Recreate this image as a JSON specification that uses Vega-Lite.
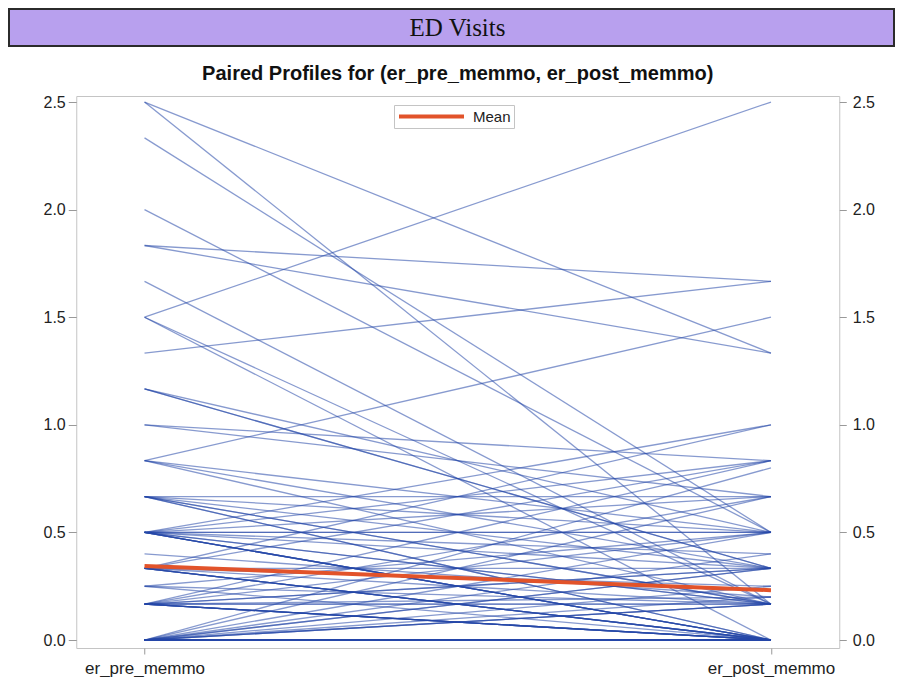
{
  "$schema": "https://vega.github.io/schema/vega-lite/v6.json",
  "padding": {"left": 8, "top": 8, "right": 0, "bottom": 0},
  "background": "white",
  "spacing": 16,
  "center": true,
  "config": {
    "font": "Liberation Sans",
    "view": {"stroke": "#c4c4c4", "strokeWidth": 1}
  },
  "datasets": {
    "paired": [
      {"id": 1, "er_pre_memmo": 2.5, "er_post_memmo": 1.3333},
      {"id": 2, "er_pre_memmo": 2.5, "er_post_memmo": 0.1667},
      {"id": 3, "er_pre_memmo": 2.3333, "er_post_memmo": 0.5},
      {"id": 4, "er_pre_memmo": 2.0, "er_post_memmo": 0.5},
      {"id": 5, "er_pre_memmo": 1.8333, "er_post_memmo": 1.6667},
      {"id": 6, "er_pre_memmo": 1.8333, "er_post_memmo": 1.3333},
      {"id": 7, "er_pre_memmo": 1.6667, "er_post_memmo": 0.1667},
      {"id": 8, "er_pre_memmo": 1.5, "er_post_memmo": 2.5},
      {"id": 9, "er_pre_memmo": 1.5, "er_post_memmo": 0},
      {"id": 10, "er_pre_memmo": 1.5, "er_post_memmo": 0.1667},
      {"id": 11, "er_pre_memmo": 1.3333, "er_post_memmo": 1.6667},
      {"id": 12, "er_pre_memmo": 1.1667, "er_post_memmo": 0.3333},
      {"id": 13, "er_pre_memmo": 1.1667, "er_post_memmo": 0.3333},
      {"id": 14, "er_pre_memmo": 1.1667, "er_post_memmo": 0.5},
      {"id": 15, "er_pre_memmo": 1.0, "er_post_memmo": 0.8333},
      {"id": 16, "er_pre_memmo": 1.0, "er_post_memmo": 0.6667},
      {"id": 17, "er_pre_memmo": 0.8333, "er_post_memmo": 1.5},
      {"id": 18, "er_pre_memmo": 0.8333, "er_post_memmo": 0.5},
      {"id": 19, "er_pre_memmo": 0.8333, "er_post_memmo": 0.3333},
      {"id": 20, "er_pre_memmo": 0.8333, "er_post_memmo": 0.1667},
      {"id": 21, "er_pre_memmo": 0.6667, "er_post_memmo": 0.6667},
      {"id": 22, "er_pre_memmo": 0.6667, "er_post_memmo": 0.3333},
      {"id": 23, "er_pre_memmo": 0.6667, "er_post_memmo": 0.1667},
      {"id": 24, "er_pre_memmo": 0.6667, "er_post_memmo": 0.1667},
      {"id": 25, "er_pre_memmo": 0.6667, "er_post_memmo": 0},
      {"id": 26, "er_pre_memmo": 0.6667, "er_post_memmo": 0.5},
      {"id": 27, "er_pre_memmo": 0.5, "er_post_memmo": 1.0},
      {"id": 28, "er_pre_memmo": 0.5, "er_post_memmo": 0.8333},
      {"id": 29, "er_pre_memmo": 0.5, "er_post_memmo": 0.6667},
      {"id": 30, "er_pre_memmo": 0.5, "er_post_memmo": 0.5},
      {"id": 31, "er_pre_memmo": 0.5, "er_post_memmo": 0.5},
      {"id": 32, "er_pre_memmo": 0.5, "er_post_memmo": 0.3333},
      {"id": 33, "er_pre_memmo": 0.5, "er_post_memmo": 0.1667},
      {"id": 34, "er_pre_memmo": 0.5, "er_post_memmo": 0.1667},
      {"id": 35, "er_pre_memmo": 0.5, "er_post_memmo": 0},
      {"id": 36, "er_pre_memmo": 0.5, "er_post_memmo": 0},
      {"id": 37, "er_pre_memmo": 0.5, "er_post_memmo": 0.4},
      {"id": 38, "er_pre_memmo": 0.4, "er_post_memmo": 0.2},
      {"id": 39, "er_pre_memmo": 0.3333, "er_post_memmo": 1.0},
      {"id": 40, "er_pre_memmo": 0.3333, "er_post_memmo": 0.8333},
      {"id": 41, "er_pre_memmo": 0.3333, "er_post_memmo": 0.3333},
      {"id": 42, "er_pre_memmo": 0.3333, "er_post_memmo": 0.1667},
      {"id": 43, "er_pre_memmo": 0.3333, "er_post_memmo": 0},
      {"id": 44, "er_pre_memmo": 0.3333, "er_post_memmo": 0},
      {"id": 45, "er_pre_memmo": 0.3333, "er_post_memmo": 0.25},
      {"id": 46, "er_pre_memmo": 0.25, "er_post_memmo": 0.5},
      {"id": 47, "er_pre_memmo": 0.25, "er_post_memmo": 0.1667},
      {"id": 48, "er_pre_memmo": 0.1667, "er_post_memmo": 0.8333},
      {"id": 49, "er_pre_memmo": 0.1667, "er_post_memmo": 0.6667},
      {"id": 50, "er_pre_memmo": 0.1667, "er_post_memmo": 0.5},
      {"id": 51, "er_pre_memmo": 0.1667, "er_post_memmo": 0.3333},
      {"id": 52, "er_pre_memmo": 0.1667, "er_post_memmo": 0.3333},
      {"id": 53, "er_pre_memmo": 0.1667, "er_post_memmo": 0.1667},
      {"id": 54, "er_pre_memmo": 0.1667, "er_post_memmo": 0.1667},
      {"id": 55, "er_pre_memmo": 0.1667, "er_post_memmo": 0},
      {"id": 56, "er_pre_memmo": 0.1667, "er_post_memmo": 0},
      {"id": 57, "er_pre_memmo": 0.1667, "er_post_memmo": 0},
      {"id": 58, "er_pre_memmo": 0.1667, "er_post_memmo": 0.2},
      {"id": 59, "er_pre_memmo": 0, "er_post_memmo": 0.8},
      {"id": 60, "er_pre_memmo": 0, "er_post_memmo": 0.6667},
      {"id": 61, "er_pre_memmo": 0, "er_post_memmo": 0.5},
      {"id": 62, "er_pre_memmo": 0, "er_post_memmo": 0.4},
      {"id": 63, "er_pre_memmo": 0, "er_post_memmo": 0.3333},
      {"id": 64, "er_pre_memmo": 0, "er_post_memmo": 0.3333},
      {"id": 65, "er_pre_memmo": 0, "er_post_memmo": 0.25},
      {"id": 66, "er_pre_memmo": 0, "er_post_memmo": 0.1667},
      {"id": 67, "er_pre_memmo": 0, "er_post_memmo": 0.1667},
      {"id": 68, "er_pre_memmo": 0, "er_post_memmo": 0.1667},
      {"id": 69, "er_pre_memmo": 0, "er_post_memmo": 0.2},
      {"id": 70, "er_pre_memmo": 0.5, "er_post_memmo": 0},
      {"id": 71, "er_pre_memmo": 0.5, "er_post_memmo": 0},
      {"id": 72, "er_pre_memmo": 0.3333, "er_post_memmo": 0},
      {"id": 73, "er_pre_memmo": 0.3333, "er_post_memmo": 0},
      {"id": 74, "er_pre_memmo": 0.1667, "er_post_memmo": 0},
      {"id": 75, "er_pre_memmo": 0.1667, "er_post_memmo": 0},
      {"id": 76, "er_pre_memmo": 0.1667, "er_post_memmo": 0},
      {"id": 77, "er_pre_memmo": 0.6667, "er_post_memmo": 0},
      {"id": 78, "er_pre_memmo": 0.25, "er_post_memmo": 0},
      {"id": 79, "er_pre_memmo": 0.5, "er_post_memmo": 0},
      {"id": 80, "er_pre_memmo": 0.3333, "er_post_memmo": 0},
      {"id": 81, "er_pre_memmo": 0, "er_post_memmo": 0},
      {"id": 82, "er_pre_memmo": 0, "er_post_memmo": 0},
      {"id": 83, "er_pre_memmo": 0, "er_post_memmo": 0},
      {"id": 84, "er_pre_memmo": 0, "er_post_memmo": 0},
      {"id": 85, "er_pre_memmo": 0, "er_post_memmo": 0},
      {"id": 86, "er_pre_memmo": 0, "er_post_memmo": 0},
      {"id": 87, "er_pre_memmo": 0, "er_post_memmo": 0},
      {"id": 88, "er_pre_memmo": 0, "er_post_memmo": 0},
      {"id": 89, "er_pre_memmo": 0, "er_post_memmo": 0},
      {"id": 90, "er_pre_memmo": 0, "er_post_memmo": 0},
      {"id": 91, "er_pre_memmo": 0, "er_post_memmo": 0},
      {"id": 92, "er_pre_memmo": 0, "er_post_memmo": 0},
      {"id": 93, "er_pre_memmo": 0, "er_post_memmo": 0},
      {"id": 94, "er_pre_memmo": 0, "er_post_memmo": 0},
      {"id": 95, "er_pre_memmo": 0, "er_post_memmo": 0},
      {"id": 96, "er_pre_memmo": 0, "er_post_memmo": 0},
      {"id": 97, "er_pre_memmo": 0, "er_post_memmo": 0},
      {"id": 98, "er_pre_memmo": 0, "er_post_memmo": 0},
      {"id": 99, "er_pre_memmo": 0, "er_post_memmo": 0},
      {"id": 100, "er_pre_memmo": 0, "er_post_memmo": 0},
      {"id": 101, "er_pre_memmo": 0, "er_post_memmo": 0},
      {"id": 102, "er_pre_memmo": 0, "er_post_memmo": 0},
      {"id": 103, "er_pre_memmo": 0, "er_post_memmo": 0},
      {"id": 104, "er_pre_memmo": 0, "er_post_memmo": 0},
      {"id": 105, "er_pre_memmo": 0, "er_post_memmo": 0},
      {"id": 106, "er_pre_memmo": 0, "er_post_memmo": 0},
      {"id": 107, "er_pre_memmo": 0, "er_post_memmo": 0},
      {"id": 108, "er_pre_memmo": 0, "er_post_memmo": 0},
      {"id": 109, "er_pre_memmo": 0, "er_post_memmo": 0},
      {"id": 110, "er_pre_memmo": 0, "er_post_memmo": 0},
      {"id": 111, "er_pre_memmo": 0, "er_post_memmo": 0},
      {"id": 112, "er_pre_memmo": 0, "er_post_memmo": 0},
      {"id": 113, "er_pre_memmo": 0, "er_post_memmo": 0},
      {"id": 114, "er_pre_memmo": 0, "er_post_memmo": 0},
      {"id": 115, "er_pre_memmo": 0, "er_post_memmo": 0},
      {"id": 116, "er_pre_memmo": 0, "er_post_memmo": 0},
      {"id": 117, "er_pre_memmo": 0, "er_post_memmo": 0},
      {"id": 118, "er_pre_memmo": 0, "er_post_memmo": 0},
      {"id": 119, "er_pre_memmo": 0, "er_post_memmo": 0},
      {"id": 120, "er_pre_memmo": 0, "er_post_memmo": 0},
      {"id": 121, "er_pre_memmo": 0, "er_post_memmo": 0},
      {"id": 122, "er_pre_memmo": 0, "er_post_memmo": 0},
      {"id": 123, "er_pre_memmo": 0, "er_post_memmo": 0},
      {"id": 124, "er_pre_memmo": 0, "er_post_memmo": 0},
      {"id": 125, "er_pre_memmo": 0, "er_post_memmo": 0},
      {"id": 126, "er_pre_memmo": 0, "er_post_memmo": 0},
      {"id": 127, "er_pre_memmo": 0, "er_post_memmo": 0},
      {"id": 128, "er_pre_memmo": 0, "er_post_memmo": 0},
      {"id": 129, "er_pre_memmo": 0, "er_post_memmo": 0},
      {"id": 130, "er_pre_memmo": 0, "er_post_memmo": 0},
      {"id": 131, "er_pre_memmo": 0, "er_post_memmo": 0},
      {"id": 132, "er_pre_memmo": 0, "er_post_memmo": 0},
      {"id": 133, "er_pre_memmo": 0, "er_post_memmo": 0},
      {"id": 134, "er_pre_memmo": 0, "er_post_memmo": 0},
      {"id": 135, "er_pre_memmo": 0, "er_post_memmo": 0},
      {"id": 136, "er_pre_memmo": 0, "er_post_memmo": 0},
      {"id": 137, "er_pre_memmo": 0, "er_post_memmo": 0},
      {"id": 138, "er_pre_memmo": 0, "er_post_memmo": 0},
      {"id": 139, "er_pre_memmo": 0, "er_post_memmo": 0}
    ]
  },
  "vconcat": [
    {
      "width": 885,
      "height": 37,
      "data": {"values": [{"label": "ED Visits"}]},
      "view": {"fill": "#b8a0ee", "stroke": "#2b2b2b", "strokeWidth": 2},
      "mark": {"type": "text", "font": "Liberation Serif", "fontSize": 25, "color": "#111", "dx": 6},
      "encoding": {
        "text": {"field": "label"},
        "y": {
          "field": "label",
          "type": "nominal",
          "axis": {
            "orient": "right",
            "title": null,
            "domain": false,
            "ticks": false,
            "labelExpr": "''",
            "minExtent": 67,
            "maxExtent": 67
          }
        }
      }
    },
    {
      "width": 763,
      "height": 552,
      "title": {
        "text": "Paired Profiles for (er_pre_memmo, er_post_memmo)",
        "fontSize": 20,
        "fontWeight": "bold",
        "color": "#111",
        "offset": 10
      },
      "data": {"name": "paired"},
      "transform": [{"fold": ["er_pre_memmo", "er_post_memmo"], "as": ["visit", "rate"]}],
      "encoding": {
        "x": {
          "field": "visit",
          "type": "nominal",
          "sort": ["er_pre_memmo", "er_post_memmo"],
          "scale": {"type": "point", "padding": 0.109},
          "axis": {
            "title": null,
            "labelAngle": 0,
            "labelFontSize": 17,
            "labelColor": "#222",
            "labelPadding": 6,
            "tickSize": 6,
            "tickColor": "#999",
            "domain": false
          }
        }
      },
      "layer": [
        {
          "mark": {"type": "line", "color": "#2447a8", "strokeWidth": 1.3, "strokeOpacity": 0.55},
          "encoding": {
            "detail": {"field": "id", "type": "nominal"},
            "y": {
              "field": "rate",
              "type": "quantitative",
              "scale": {"domain": [-0.037, 2.528], "nice": false, "zero": false},
              "axis": {
                "title": null,
                "values": [0, 0.5, 1, 1.5, 2, 2.5],
                "format": ".1f",
                "grid": false,
                "domain": false,
                "tickSize": 8,
                "tickColor": "#999",
                "labelPadding": 3,
                "labelFontSize": 16,
                "labelColor": "#222",
                "minExtent": 67,
                "maxExtent": 67
              }
            }
          }
        },
        {
          "mark": {"type": "line", "strokeWidth": 4},
          "encoding": {
            "y": {
              "aggregate": "mean",
              "field": "rate",
              "type": "quantitative",
              "axis": {
                "orient": "right",
                "title": null,
                "values": [0, 0.5, 1, 1.5, 2, 2.5],
                "format": ".1f",
                "grid": false,
                "domain": false,
                "tickSize": 7,
                "tickColor": "#999",
                "labelPadding": 6,
                "labelFontSize": 16,
                "labelColor": "#222",
                "minExtent": 55,
                "maxExtent": 55
              }
            },
            "color": {
              "datum": "Mean",
              "scale": {"range": ["#e2532a"]},
              "legend": {
                "title": null,
                "orient": "none",
                "legendX": 385,
                "legendY": 96,
                "symbolType": "M-5,0H5",
                "symbolSize": 169,
                "symbolStrokeWidth": 4,
                "symbolOffset": 26,
                "labelOffset": 33,
                "labelFontSize": 15,
                "labelColor": "#222",
                "padding": 3,
                "strokeColor": "#c4c4c4",
                "fillColor": "white"
              }
            }
          }
        }
      ],
      "resolve": {"axis": {"y": "independent"}}
    }
  ]
}
